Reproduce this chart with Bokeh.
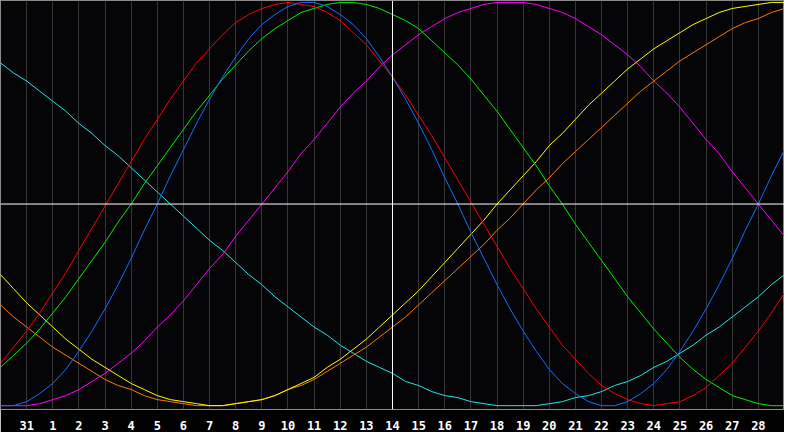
from bokeh.plotting import figure
from bokeh.models import Span, FixedTicker
from bokeh.embed import file_html
from bokeh.resources import INLINE

# half-day steps, day index 0..30 (Jan 30 .. Mar 1)
steps = [i / 2 for i in range(61)]
tick_pos = list(range(1, 30))
tick_labels = ["31"] + [str(d) for d in range(1, 29)]

# curve values, every half day
red = [-0.79, -0.71, -0.63, -0.54, -0.44, -0.34, -0.23, -0.12, -0.01, 0.10, 0.21, 0.32, 0.42, 0.52, 0.61, 0.70,
       0.77, 0.84, 0.90, 0.94, 0.97, 0.99, 1.00, 0.99, 0.98, 0.95, 0.91, 0.85, 0.79, 0.71, 0.63, 0.54,
       0.44, 0.34, 0.23, 0.12, 0.01, -0.10, -0.21, -0.32, -0.42, -0.52, -0.61, -0.70, -0.77, -0.84, -0.90, -0.94,
       -0.97, -0.99, -1.00, -0.99, -0.98, -0.95, -0.91, -0.85, -0.79, -0.71, -0.63, -0.54, -0.44]
blue = [-1.00, -1.00, -0.98, -0.94, -0.89, -0.82, -0.73, -0.63, -0.52, -0.40, -0.27, -0.13, 0.00, 0.14, 0.27, 0.40,
        0.52, 0.63, 0.73, 0.82, 0.89, 0.94, 0.98, 1.00, 1.00, 0.98, 0.94, 0.89, 0.82, 0.73, 0.63, 0.52,
        0.40, 0.27, 0.13, 0.00, -0.14, -0.27, -0.40, -0.52, -0.63, -0.73, -0.82, -0.89, -0.94, -0.98, -1.00, -1.00,
        -0.98, -0.94, -0.89, -0.82, -0.73, -0.63, -0.52, -0.40, -0.27, -0.13, 0.00, 0.14, 0.27]
green = [-0.81, -0.75, -0.69, -0.62, -0.54, -0.46, -0.37, -0.28, -0.19, -0.09, 0.00, 0.10, 0.19, 0.28, 0.37, 0.46,
         0.54, 0.62, 0.69, 0.76, 0.82, 0.87, 0.91, 0.95, 0.97, 0.99, 1.00, 1.00, 0.99, 0.97, 0.94, 0.91,
         0.87, 0.81, 0.75, 0.69, 0.62, 0.54, 0.46, 0.37, 0.28, 0.19, 0.09, 0.00, -0.10, -0.19, -0.28, -0.37,
         -0.46, -0.54, -0.62, -0.69, -0.76, -0.82, -0.87, -0.91, -0.95, -0.97, -0.99, -1.00, -1.00]
magenta = [-1.00, -1.00, -1.00, -0.99, -0.97, -0.95, -0.92, -0.88, -0.84, -0.79, -0.74, -0.68, -0.61, -0.55, -0.48, -0.40,
           -0.32, -0.25, -0.16, -0.08, 0.00, 0.08, 0.16, 0.25, 0.32, 0.40, 0.48, 0.55, 0.61, 0.68, 0.74, 0.79,
           0.84, 0.88, 0.92, 0.95, 0.97, 0.99, 1.00, 1.00, 1.00, 0.99, 0.97, 0.95, 0.92, 0.88, 0.84, 0.79,
           0.74, 0.68, 0.61, 0.55, 0.48, 0.40, 0.32, 0.25, 0.16, 0.08, 0.00, -0.08, -0.16]
cyan = [0.70, 0.65, 0.61, 0.56, 0.51, 0.46, 0.40, 0.35, 0.29, 0.24, 0.18, 0.12, 0.06, 0.00, -0.06, -0.12,
        -0.18, -0.23, -0.29, -0.35, -0.40, -0.46, -0.51, -0.56, -0.61, -0.65, -0.70, -0.74, -0.78, -0.81, -0.84, -0.88,
        -0.90, -0.93, -0.95, -0.96, -0.98, -0.99, -1.00, -1.00, -1.00, -1.00, -0.99, -0.98, -0.96, -0.95, -0.93, -0.90,
        -0.88, -0.85, -0.81, -0.78, -0.74, -0.70, -0.65, -0.61, -0.56, -0.51, -0.46, -0.40, -0.35]
yellow = [-0.35, -0.42, -0.49, -0.55, -0.61, -0.67, -0.72, -0.77, -0.81, -0.85, -0.89, -0.92, -0.95, -0.97, -0.98, -0.99,
          -1.00, -1.00, -0.99, -0.98, -0.97, -0.95, -0.92, -0.89, -0.86, -0.81, -0.77, -0.72, -0.67, -0.61, -0.55, -0.49,
          -0.43, -0.36, -0.29, -0.22, -0.15, -0.08, 0.00, 0.07, 0.14, 0.21, 0.29, 0.35, 0.42, 0.49, 0.55, 0.61,
          0.67, 0.72, 0.77, 0.81, 0.85, 0.89, 0.92, 0.95, 0.97, 0.98, 0.99, 1.00, 1.00]
orange = [-0.50, -0.56, -0.61, -0.66, -0.71, -0.75, -0.79, -0.83, -0.87, -0.90, -0.92, -0.95, -0.97, -0.98, -0.99, -1.00,
          -1.00, -1.00, -0.99, -0.98, -0.97, -0.95, -0.92, -0.90, -0.87, -0.83, -0.79, -0.75, -0.71, -0.66, -0.61, -0.56,
          -0.50, -0.44, -0.38, -0.32, -0.26, -0.20, -0.13, -0.07, 0.00, 0.07, 0.13, 0.20, 0.26, 0.32, 0.38, 0.44,
          0.50, 0.56, 0.61, 0.66, 0.71, 0.75, 0.79, 0.83, 0.87, 0.90, 0.92, 0.95, 0.97]

p = figure(width=784, height=432, x_range=(0, 30), y_range=(-1.019, 1.0095),
           output_backend="svg", toolbar_location=None, y_axis_location=None)
p.min_border = 0
p.background_fill_color = "#050407"
p.border_fill_color = "#000000"
p.outline_line_color = "#8a8a8a"

p.ygrid.visible = False
p.xgrid.ticker = FixedTicker(ticks=tick_pos)
p.xgrid.grid_line_color = "#363636"

ax = p.xaxis[0]
ax.ticker = FixedTicker(ticks=tick_pos)
ax.major_label_overrides = {t: l for t, l in zip(tick_pos, tick_labels)}
ax.axis_line_color = None
ax.major_tick_line_color = None
ax.minor_tick_line_color = None
ax.major_label_standoff = 5
ax.major_label_text_color = "white"
ax.major_label_text_font = "DejaVu Sans Mono"
ax.major_label_text_font_style = "bold"
ax.major_label_text_font_size = "12px"

p.add_layout(Span(location=15, dimension="height", line_color="white", line_width=1))
p.add_layout(Span(location=0, dimension="width", line_color="white", line_width=1))

p.line(steps, cyan, color="#20e8e8")
p.line(steps, magenta, color="#ff00ff")
p.line(steps, orange, color="#ff7a00")
p.line(steps, yellow, color="#ffff00")
p.line(steps, green, color="#00f000")
p.line(steps, red, color="#ff0000")
p.line(steps, blue, color="#1a6cff")

open("out.html", "w").write(file_html(p, INLINE))
